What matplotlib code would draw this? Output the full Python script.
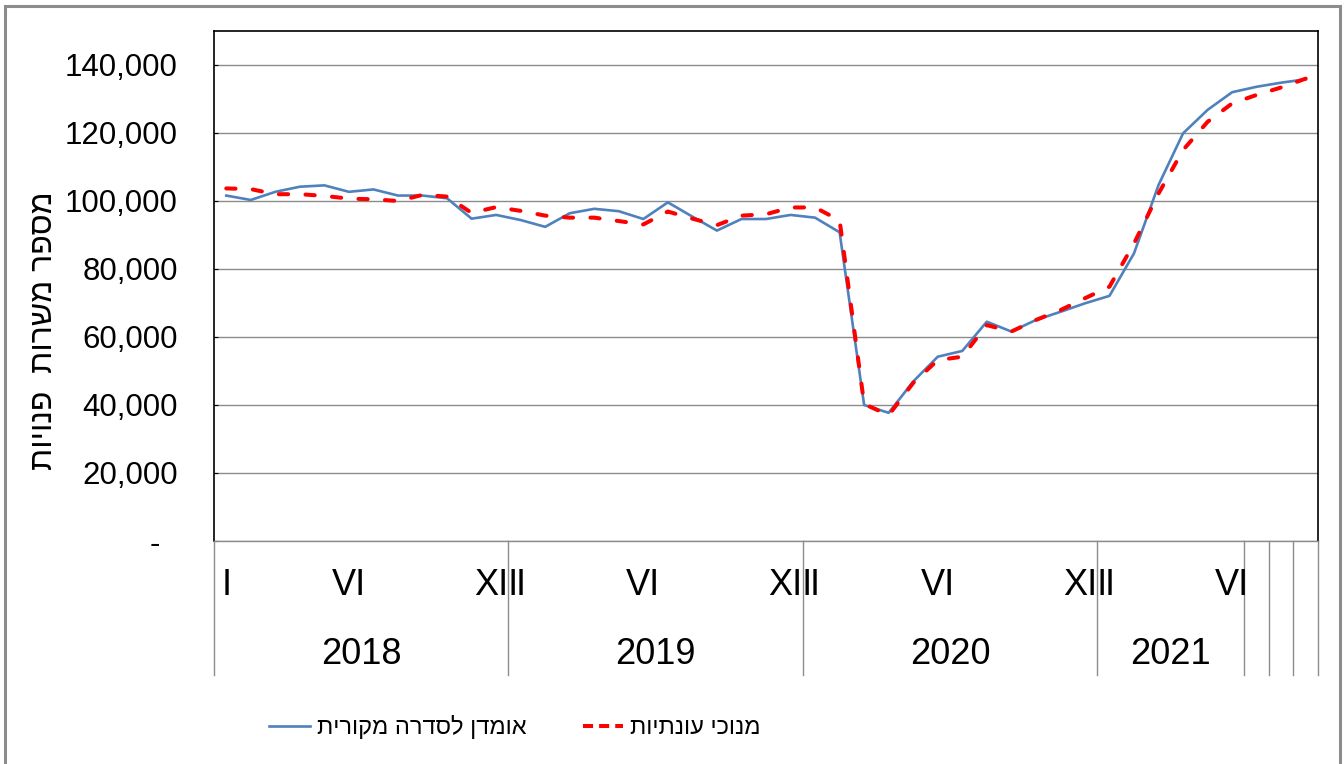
import matplotlib.pyplot as plt
from matplotlib.lines import Line2D
from matplotlib.patches import Rectangle
from matplotlib.transforms import ScaledTranslation

plt.rcParams['font.family'] = ['Liberation Sans', 'DejaVu Sans']

# Data
years = ["2018", "2019", "2020", "2021", "", "", ""]
months_in_group = [12, 12, 12, 6, 1, 1, 1]
month_marks = {1: "I", 6: "VI", 12: "XII"}

original = [101600, 100300, 102700, 104200, 104600, 102700, 103400, 101600, 101600, 100800, 94800, 95900,
            94400, 92400, 96400, 97700, 97000, 94700, 99600, 95400, 91300, 94700, 94700, 95900,
            95100, 90800, 40000, 37700, 46900, 54200, 55900, 64500, 61600, 65000, 67400, 69900,
            72100, 84600, 104700, 119900, 126800, 132000, 133600, 134800, 135800]

seasonal = [103700, 103500, 102000, 102000, 101500, 100700, 100500, 100000, 101800, 101300, 96500, 98200,
            97100, 95700, 95100, 95100, 94100, 93100, 96900, 94800, 92900, 95700, 96100, 98100,
            98100, 94300, 40300, 37000, 46500, 53200, 54200, 63500, 61600, 65000, 67900, 71400,
            74800, 87500, 102200, 115000, 123300, 128700, 131200, 133400, 136000]

y_ticks = [0, 20000, 40000, 60000, 80000, 100000, 120000, 140000]
y_tick_labels = ["-", "20,000", "40,000", "60,000", "80,000", "100,000", "120,000", "140,000"]

label_original = "אומדן לסדרה מקורית"
label_seasonal = "מנוכי עונתיות"
y_title = "מספר משרות  פנויות"


def rtl(s):
    # matplotlib has no bidi support, so flip Hebrew text for display
    return s[::-1]


# month labels per category
month_labels = []
for size in months_in_group:
    for m in range(1, size + 1):
        month_labels.append(month_marks.get(m, "") if size > 1 else "")

fig = plt.figure(figsize=(13.44, 7.64), dpi=100)
ax = fig.add_axes([214 / 1344, (764 - 541) / 764, 1104 / 1344, 510 / 764])

x = list(range(len(original)))
ax.plot(x, original, color='#4F81BD', lw=1.9, zorder=3)
ax.plot(x, seasonal, color='#FF0000', lw=2.9, linestyle=(0, (2.3, 4.3)),
        dash_capstyle='round', zorder=4)

ax.set_xlim(-0.5, len(original) - 0.5)
ax.set_ylim(0, 150000)
ax.set_xticks([])
ax.set_yticks(y_ticks, y_tick_labels, fontsize=22.5)
ax.tick_params(axis='y', direction='in', length=3, pad=26, color='black')
ax.grid(axis='y', color='#8c8c8c', lw=1)
ax.set_axisbelow(True)

# "-" label sits a bit left, like accounting format
zero_lab = ax.get_yticklabels()[0]
zero_lab.set_transform(zero_lab.get_transform() + ScaledTranslation(-0.18, 0, fig.dpi_scale_trans))

for side in ['left', 'top', 'right']:
    ax.spines[side].set_color('black')
    ax.spines[side].set_linewidth(1.2)
ax.spines['bottom'].set_color('#8c8c8c')
ax.spines['bottom'].set_linewidth(1)

# category axis: dividers, month and year labels
xt = ax.get_xaxis_transform()
start = -0.5
ax.plot([start, start], [0, -0.263], transform=xt, clip_on=False, color='#8c8c8c', lw=1)
for size, yr in zip(months_in_group, years):
    end = start + size
    ax.plot([end, end], [0, -0.263], transform=xt, clip_on=False, color='#8c8c8c', lw=1)
    if yr:
        ax.text((start + end) / 2, -0.2235, yr, transform=xt, ha='center', va='center', fontsize=26)
    start = end

for i, lab in enumerate(month_labels):
    if lab:
        ax.text(i, -0.0863, lab, transform=xt, ha='center', va='center', fontsize=26)

fig.text(44 / 1344, 1 - 331 / 764, rtl(y_title), rotation=90, ha='center', va='center', fontsize=23)

# legend
h1 = Line2D([], [], color='#4F81BD', lw=1.9)
h2 = Line2D([], [], color='#FF0000', lw=2.9, linestyle=(0, (2.5, 1.5)))
fig.legend([h1, h2], [rtl(label_original), rtl(label_seasonal)], loc='center',
           bbox_to_anchor=(515 / 1344, 1 - 727 / 764), ncol=2, frameon=False, fontsize=17,
           handlelength=1.7, handletextpad=0.3, columnspacing=2.4)

# outer chart border
fig.add_artist(Rectangle((5 / 1344, -0.01), 1335 / 1344, 1 - 6 / 764 + 0.01,
                         transform=fig.transFigure, fill=False, edgecolor='#8c8c8c', lw=2.2))

fig.savefig('out.png', dpi=100)
